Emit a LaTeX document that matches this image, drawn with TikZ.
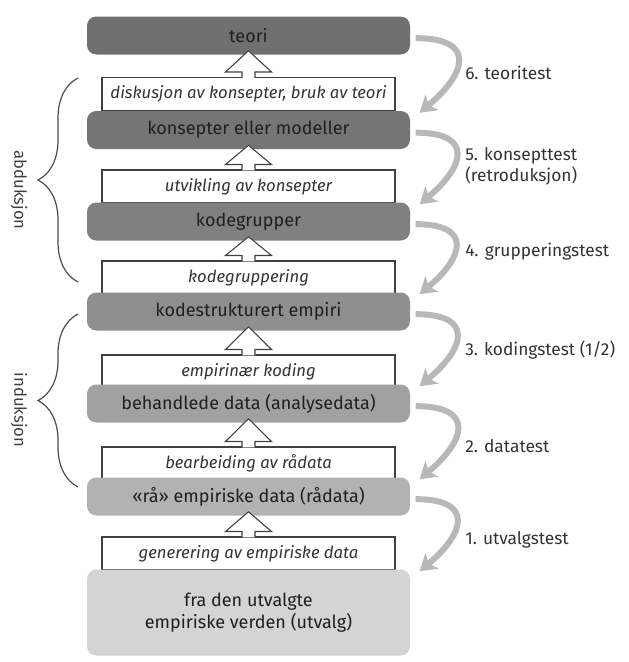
\documentclass[tikz,border=0pt]{standalone}
\usepackage{fontspec}
\setmainfont{Fira Sans}
\usetikzlibrary{arrows.meta,decorations.pathreplacing,calc}

\definecolor{stageA}{gray}{0.44}
\definecolor{stageB}{gray}{0.46}
\definecolor{stageC}{gray}{0.50}
\definecolor{stageD}{gray}{0.56}
\definecolor{stageE}{gray}{0.63}
\definecolor{stageF}{gray}{0.70}
\definecolor{stageG}{gray}{0.83}
\definecolor{testgrey}{gray}{0.72}

\tikzset{
  stage/.style={rounded corners=7pt, minimum width=242.25pt, minimum height=28.5pt,
    inner sep=0pt, text=black!88, font=\fontsize{13.5}{16}\selectfont},
  work/.style={draw=black!75, line width=0.8pt, fill=white, minimum width=219.75pt,
    minimum height=24.75pt, inner sep=0pt, text=black!80,
    font=\fontsize{12.5}{15}\selectfont\itshape},
  liftstyle/.style={draw=black!75, line width=0.8pt, fill=white, line join=miter},
  testarrow/.style={draw=testgrey, line width=4.5pt,
    -{Stealth[length=12pt,width=15pt,inset=3pt]}, out=0, in=40, looseness=2.1},
  testlabel/.style={anchor=west, inner sep=0pt, text=black!80, align=left,
    font=\fontsize{13}{16}\selectfont},
  phase/.style={decorate, decoration={brace, amplitude=30pt}, draw=black!70, line width=0.9pt},
  phaselabel/.style={rotate=-90, text=black!75, font=\fontsize{12.5}{15}\selectfont}
}

% open block arrow from a white box up into the stage above it
\newcommand{\liftarrow}[2]{%
  \filldraw[liftstyle] ($(#1.north)+(-6.5,1)$) -- ($(#1.north)+(-6.5,-5)$)
    -- ($(#1.north)+(-23,-5)$) -- ($(#2.south)+(0,-4)$)
    -- ($(#1.north)+(23,-5)$) -- ($(#1.north)+(6.5,-5)$) -- ($(#1.north)+(6.5,1)$);
}

\begin{document}
\begin{tikzpicture}[x=0.75pt,y=-0.75pt]
\useasboundingbox (0,0) rectangle (629,662);

% work steps
\node[work] (diskusjon) at (248.5,94) {diskusjon av konsepter, bruk av teori};
\node[work] (utvikling) at (248.5,186.5) {utvikling av konsepter};
\node[work] (gruppering) at (248.5,277.5) {kodegruppering};
\node[work] (koding) at (248.5,371.5) {empirinær koding};
\node[work] (bearbeiding) at (248.5,463.5) {bearbeiding av rådata};
\node[work] (generering) at (248.5,553.5) {generering av empiriske data};

% stages
\node[stage, fill=stageA] (teori) at (248.5,35.5) {teori};
\node[stage, fill=stageB] (konsepter) at (248.5,130) {konsepter eller modeller};
\node[stage, fill=stageC] (kodegrupper) at (248.5,221.5) {kodegrupper};
\node[stage, fill=stageD] (kodestrukturert) at (248.5,311.5) {kodestrukturert empiri};
\node[stage, fill=stageE] (behandlede) at (248.5,403.5) {behandlede data (analysedata)};
\node[stage, fill=stageF] (raadata) at (248.5,496.5) {«rå» empiriske data (rådata)};
\node[stage, fill=stageG, minimum height=64.5pt, align=center] (utvalg) at (248.5,612.5)
  {fra den utvalgte\\empiriske verden (utvalg)};

% block arrows
\liftarrow{diskusjon}{teori}
\liftarrow{utvikling}{konsepter}
\liftarrow{gruppering}{kodegrupper}
\liftarrow{koding}{kodestrukturert}
\liftarrow{bearbeiding}{behandlede}
\liftarrow{generering}{raadata}

% tests
\draw[testarrow] ([xshift=4pt,yshift=-2pt]teori.east) to ([xshift=7pt,yshift=-1.5pt]konsepter.north east);
\draw[testarrow] ([xshift=4pt,yshift=-2pt]konsepter.east) to ([xshift=7pt,yshift=-1.5pt]kodegrupper.north east);
\draw[testarrow] ([xshift=4pt,yshift=-2pt]kodegrupper.east) to ([xshift=7pt,yshift=-1.5pt]kodestrukturert.north east);
\draw[testarrow] ([xshift=4pt,yshift=-2pt]kodestrukturert.east) to ([xshift=7pt,yshift=-1.5pt]behandlede.north east);
\draw[testarrow] ([xshift=4pt,yshift=-2pt]behandlede.east) to ([xshift=7pt,yshift=-1.5pt]raadata.north east);
\draw[testarrow] ([xshift=4pt,yshift=-2pt]raadata.east) to ([xshift=7pt,yshift=-1.5pt]utvalg.north east);

\node[testlabel] (test6) at (465,73) {6. teoritest};
\node[testlabel] (test5) at (465,166) {5. konsepttest\\(retroduksjon)};
\node[testlabel] (test4) at (465,252) {4. grupperingstest};
\node[testlabel] (test3) at (465,350) {3. kodingstest (1/2)};
\node[testlabel] (test2) at (465,446) {2. datatest};
\node[testlabel] (test1) at (465,540) {1. utvalgstest};

% phases
\draw[phase] (78,282) -- (78,78);
\node[phaselabel] (abduksjon) at (19,190) {abduksjon};
\draw[phase] (78,487) -- (78,314);
\node[phaselabel] (induksjon) at (19,410) {induksjon};
\end{tikzpicture}
\end{document}
